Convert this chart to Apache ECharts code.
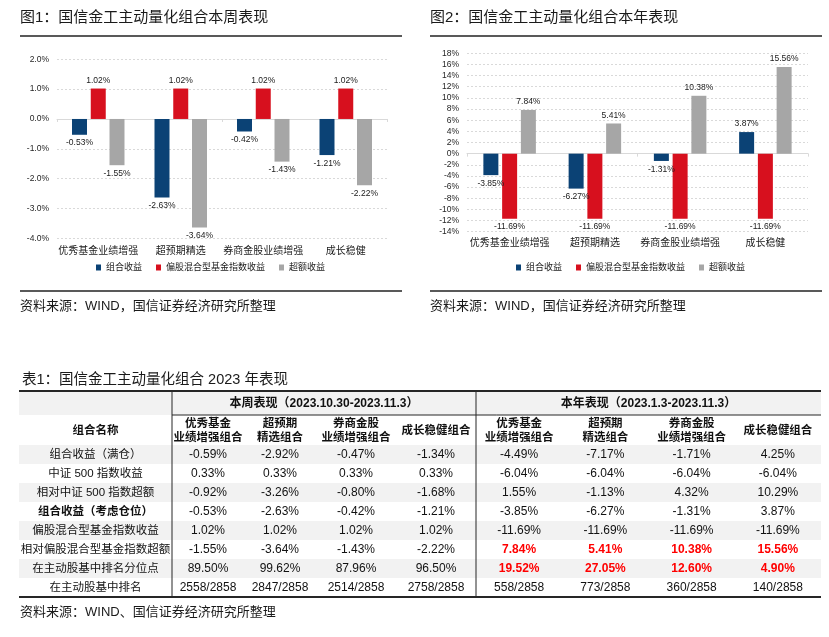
<!DOCTYPE html>
<html><head><meta charset="utf-8">
<script src="https://cdn.jsdelivr.net/npm/echarts@6/dist/echarts.min.js"></script>
<style>html,body{margin:0;padding:0;background:#fff}#c{width:829px;height:637px}</style>
</head><body><div id="c"></div>
<script>
// ---------------- DATA ----------------
const categories = ['优秀基金业绩增强', '超预期精选', '券商金股业绩增强', '成长稳健'];
const seriesNames = ['组合收益', '偏股混合型基金指数收益', '超额收益'];

// 本周表现 (%)
const weekFull = [-0.59, -2.92, -0.47, -1.34];
const weekCsi500 = [0.33, 0.33, 0.33, 0.33];
const weekVsCsi500 = [-0.92, -3.26, -0.80, -1.68];
const weekPortfolio = [-0.53, -2.63, -0.42, -1.21];
const weekIndex = [1.02, 1.02, 1.02, 1.02];
const weekExcess = [-1.55, -3.64, -1.43, -2.22];
const weekPercentile = [89.50, 99.62, 87.96, 96.50];
const weekRank = ['2558/2858', '2847/2858', '2514/2858', '2758/2858'];

// 本年表现 (%)
const yearFull = [-4.49, -7.17, -1.71, 4.25];
const yearCsi500 = [-6.04, -6.04, -6.04, -6.04];
const yearVsCsi500 = [1.55, -1.13, 4.32, 10.29];
const yearPortfolio = [-3.85, -6.27, -1.31, 3.87];
const yearIndex = [-11.69, -11.69, -11.69, -11.69];
const yearExcess = [7.84, 5.41, 10.38, 15.56];
const yearPercentile = [19.52, 27.05, 12.60, 4.90];
const yearRank = ['558/2858', '773/2858', '360/2858', '140/2858'];

// axis ranges (tick labels)
const axis1 = { min: -4, max: 2, interval: 1 };
const axis2 = { min: -14, max: 18, interval: 2 };

// table texts
const rowLabels = ['组合收益（满仓）', '中证 500 指数收益', '相对中证 500 指数超额', '组合收益（考虑仓位）',
  '偏股混合型基金指数收益', '相对偏股混合型基金指数超额', '在主动股基中排名分位点', '在主动股基中排名'];
const colHeaders = ['优秀基金\n业绩增强组合', '超预期\n精选组合', '券商金股\n业绩增强组合', '成长稳健组合'];
const nameHeader = '组合名称';
const weekTitle = '本周表现（2023.10.30-2023.11.3）';
const yearTitle = '本年表现（2023.1.3-2023.11.3）';

// ---------------- STYLE / LAYOUT ----------------
const FONT = '"Liberation Sans", Arial, "Noto Sans CJK SC", sans-serif';
const C_BLUE = '#0b4275', C_RED = '#d7101e', C_GRAY = '#a6a6a6';
const colW = [153, 72, 72, 80, 80, 86.25, 86.25, 86.25, 86.25];
const rowH = [24, 30, 19, 19, 19, 19, 19, 19, 19, 19];
const TW = colW.reduce((a, b) => a + b, 0), TH = rowH.reduce((a, b) => a + b, 0);
const colX = [0]; colW.forEach(w => colX.push(colX[colX.length - 1] + w));
const rowY = [0]; rowH.forEach(h => rowY.push(rowY[rowY.length - 1] + h));

const pct = v => v.toFixed(2) + '%';

// ---------------- TABLE CELLS ----------------
const weekRows = [weekFull, weekCsi500, weekVsCsi500, weekPortfolio, weekIndex, weekExcess, weekPercentile, weekRank];
const yearRows = [yearFull, yearCsi500, yearVsCsi500, yearPortfolio, yearIndex, yearExcess, yearPercentile, yearRank];
const cells = [];
function addCell(r, c, span, text, opt) {
  cells.push(Object.assign({ x0: colX[c], x1: colX[c + span], y0: rowY[r], y1: rowY[r + 1], text: text,
    bold: false, color: '#111', size: 12 }, opt || {}));
}
addCell(0, 1, 4, weekTitle, { bold: true, size: 12 });
addCell(0, 5, 4, yearTitle, { bold: true, size: 12 });
addCell(1, 0, 1, nameHeader, { bold: true, size: 11.5 });
colHeaders.forEach((h, i) => { addCell(1, 1 + i, 1, h, { bold: true, size: 11.5 }); addCell(1, 5 + i, 1, h, { bold: true, size: 11.5 }); });
rowLabels.forEach((lab, i) => {
  const r = 2 + i;
  addCell(r, 0, 1, lab, { size: 11.5, bold: i === 3 });
  for (let j = 0; j < 4; j++) {
    const w = weekRows[i][j], y = yearRows[i][j];
    addCell(r, 1 + j, 1, typeof w === 'number' ? pct(w) : w);
    const red = (i === 5 || i === 6);
    addCell(r, 5 + j, 1, typeof y === 'number' ? pct(y) : y, red ? { bold: true, color: '#ff0000' } : {});
  }
});
const bands = [0, 2, 4, 6, 8].map(r => ({ x0: 0, x1: TW, y0: rowY[r], y1: rowY[r + 1] }));
const rules = [
  { x0: 0, y0: 0, x1: TW, y1: 0, w: 2 },
  { x0: colX[1], y0: rowY[1], x1: TW, y1: rowY[1], w: 1 },
  { x0: colX[1], y0: 0, x1: colX[1], y1: TH, w: 1 },
  { x0: colX[5], y0: 0, x1: colX[5], y1: TH, w: 1 },
  { x0: 0, y0: TH, x1: TW, y1: TH, w: 2 }
];

// ---------------- CHART ----------------
const chart = echarts.init(document.getElementById('c'), null, { renderer: 'canvas' });

function barSeries(name, data, color, xIdx, yIdx) {
  return {
    name: name, type: 'bar', xAxisIndex: xIdx, yAxisIndex: yIdx,
    barWidth: 15, barGap: '25%',
    itemStyle: { color: color },
    data: data.map(v => ({ value: v, label: { position: v < 0 ? 'bottom' : 'top' } })),
    label: { show: true, distance: 4, color: '#1a1a1a', fontSize: 8.5, fontFamily: FONT,
      formatter: p => pct(p.value) },
    emphasis: { disabled: true }, animation: false
  };
}
function yAxis(gi, ax, fmt) {
  return {
    type: 'value', gridIndex: gi, min: ax.min, max: ax.max, interval: ax.interval,
    axisLine: { show: false }, axisTick: { show: false },
    axisLabel: { color: '#262626', fontSize: 8.5, fontFamily: FONT, margin: 8, formatter: fmt },
    splitLine: { show: true, lineStyle: { color: '#d9d9d9', type: [2, 2], width: 1 } }
  };
}
function xAxes(gi, margin) {
  return [
    { type: 'category', gridIndex: gi, data: categories, position: 'bottom',
      axisLine: { show: false, onZero: false }, axisTick: { show: false },
      axisLabel: { color: '#1a1a1a', fontSize: 10, fontFamily: FONT, margin: margin, interval: 0 } },
    { type: 'category', gridIndex: gi, data: categories, position: 'bottom',
      axisLine: { show: true, onZero: true, lineStyle: { color: '#d9d9d9', width: 1 } },
      axisTick: { show: true, length: 3, lineStyle: { color: '#d9d9d9' } },
      axisLabel: { show: false } }
  ];
}
const legendBase = {
  icon: 'rect', itemWidth: 5, itemHeight: 6, itemGap: 14, padding: 0, data: seriesNames,
  textStyle: { fontSize: 9, color: '#1a1a1a', fontFamily: FONT }, selectedMode: false
};
const titleStyle = { fontSize: 15, fontWeight: 'normal', color: '#1a1a1a', fontFamily: FONT };
const srcStyle = { fontSize: 13, fontWeight: 'normal', color: '#1a1a1a', fontFamily: FONT };

const option = {
  backgroundColor: '#fff',
  animation: false,
  title: [
    { text: '图1：国信金工主动量化组合本周表现', left: 20, top: 10, padding: 0, textStyle: titleStyle },
    { text: '图2：国信金工主动量化组合本年表现', left: 430, top: 10, padding: 0, textStyle: titleStyle },
    { text: '资料来源：WIND，国信证券经济研究所整理', left: 20, top: 300, padding: 0, textStyle: srcStyle },
    { text: '资料来源：WIND，国信证券经济研究所整理', left: 430, top: 300, padding: 0, textStyle: srcStyle },
    { text: '表1：国信金工主动量化组合 2023 年表现', left: 22, top: 373, padding: 0,
      textStyle: { fontSize: 14.5, fontWeight: 'normal', color: '#1a1a1a', fontFamily: FONT } },
    { text: '资料来源：WIND、国信证券经济研究所整理', left: 20, top: 606, padding: 0, textStyle: srcStyle }
  ],
  legend: [
    Object.assign({}, legendBase, { left: 96, top: 263 }),
    Object.assign({}, legendBase, { left: 516, top: 263 })
  ],
  grid: [
    { left: 57, top: 59.3, width: 330, height: 179, containLabel: false, outerBoundsMode: 'none' },
    { left: 467, top: 53.3, width: 341, height: 178.4, containLabel: false, outerBoundsMode: 'none' },
    { left: 19, top: 391, width: TW, height: TH, containLabel: false, outerBoundsMode: 'none' }
  ],
  xAxis: [
    ...xAxes(0, 7.5),
    ...xAxes(1, 7),
    { type: 'value', gridIndex: 2, min: 0, max: TW, show: false }
  ],
  yAxis: [
    yAxis(0, axis1, v => v.toFixed(1) + '%'),
    yAxis(1, axis2, v => v + '%'),
    { type: 'value', gridIndex: 2, min: 0, max: TH, inverse: true, show: false }
  ],
  graphic: [
    { type: 'line', shape: { x1: 20, y1: 36, x2: 402, y2: 36 }, style: { stroke: '#595959', lineWidth: 2 }, silent: true },
    { type: 'line', shape: { x1: 430, y1: 36, x2: 822, y2: 36 }, style: { stroke: '#595959', lineWidth: 2 }, silent: true },
    { type: 'line', shape: { x1: 20, y1: 291, x2: 402, y2: 291 }, style: { stroke: '#595959', lineWidth: 2 }, silent: true },
    { type: 'line', shape: { x1: 430, y1: 291, x2: 822, y2: 291 }, style: { stroke: '#595959', lineWidth: 2 }, silent: true }
  ],
  series: [
    barSeries(seriesNames[0], weekPortfolio, C_BLUE, 0, 0),
    barSeries(seriesNames[1], weekIndex, C_RED, 0, 0),
    barSeries(seriesNames[2], weekExcess, C_GRAY, 0, 0),
    barSeries(seriesNames[0], yearPortfolio, C_BLUE, 2, 1),
    barSeries(seriesNames[1], yearIndex, C_RED, 2, 1),
    barSeries(seriesNames[2], yearExcess, C_GRAY, 2, 1),
    { type: 'custom', xAxisIndex: 4, yAxisIndex: 2, silent: true, clip: false, z: 1,
      data: bands.map(b => [b.x0, b.y0, b.x1, b.y1]),
      renderItem: (params, api) => {
        const p0 = api.coord([api.value(0), api.value(1)]), p1 = api.coord([api.value(2), api.value(3)]);
        return { type: 'rect', shape: { x: p0[0], y: p0[1], width: p1[0] - p0[0], height: p1[1] - p0[1] },
          style: { fill: '#f2f2f2' } };
      } },
    { type: 'custom', xAxisIndex: 4, yAxisIndex: 2, silent: true, clip: false, z: 3,
      data: rules.map(r => [r.x0, r.y0, r.x1, r.y1, r.w]),
      renderItem: (params, api) => {
        const p0 = api.coord([api.value(0), api.value(1)]), p1 = api.coord([api.value(2), api.value(3)]);
        return { type: 'line', shape: { x1: p0[0], y1: p0[1], x2: p1[0], y2: p1[1] },
          style: { stroke: '#262626', lineWidth: api.value(4) } };
      } },
    { type: 'custom', xAxisIndex: 4, yAxisIndex: 2, silent: true, clip: false, z: 4,
      data: cells.map(c => [c.x0, c.y0, c.x1, c.y1]),
      renderItem: (params, api) => {
        const c = cells[params.dataIndex];
        const p0 = api.coord([api.value(0), api.value(1)]), p1 = api.coord([api.value(2), api.value(3)]);
        return { type: 'text',
          style: { text: c.text, x: (p0[0] + p1[0]) / 2, y: (p0[1] + p1[1]) / 2 + 0.5,
            align: 'center', verticalAlign: 'middle', fill: c.color,
            fontSize: c.size, fontWeight: c.bold ? 'bold' : 'normal', fontFamily: FONT, lineHeight: 14 } };
      } }
  ]
};
chart.setOption(option);
</script>
</body></html>
